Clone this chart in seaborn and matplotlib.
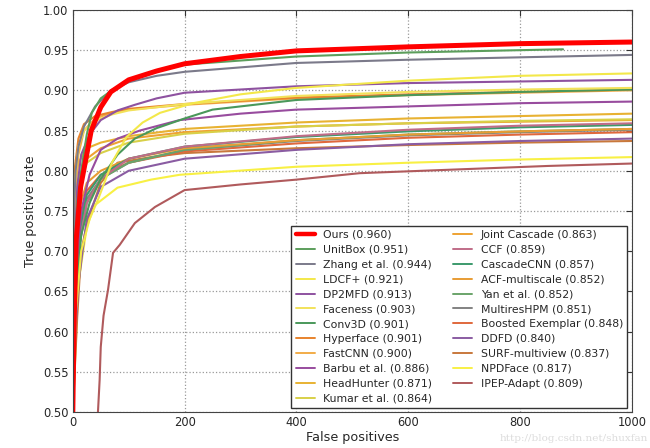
import numpy as np
import pandas as pd
import matplotlib
matplotlib.use("Agg")
import matplotlib.pyplot as plt
import seaborn as sns

# ROC curves (false positives vs true positive rate)
methods = ["Ours", "UnitBox", "Zhang et al.", "LDCF+", "DP2MFD", "Faceness", "Conv3D",
           "Hyperface", "FastCNN", "Barbu et al.", "HeadHunter", "Kumar et al.",
           "Joint Cascade", "CCF", "CascadeCNN", "ACF-multiscale", "Yan et al.",
           "MultiresHPM", "Boosted Exemplar", "DDFD", "SURF-multiview", "NPDFace", "IPEP-Adapt"]
scores = [0.960, 0.951, 0.944, 0.921, 0.913, 0.903, 0.901, 0.901, 0.900, 0.886, 0.871, 0.864,
          0.863, 0.859, 0.857, 0.852, 0.852, 0.851, 0.848, 0.840, 0.837, 0.817, 0.809]

ours_fp = [0, 2, 6, 14, 33, 50, 68, 100, 150, 200, 300, 400, 600, 800, 1000]
ours_tp = [0.5, 0.60, 0.714, 0.78, 0.85, 0.879, 0.898, 0.913, 0.924, 0.933, 0.942, 0.949, 0.954, 0.958, 0.960]
unitbox_fp = [0, 3, 8, 15, 25, 34, 50, 70, 100, 150, 200, 300, 400, 600, 877]
unitbox_tp = [0.5, 0.68, 0.76, 0.80, 0.845, 0.872, 0.89, 0.90, 0.912, 0.925, 0.932, 0.937, 0.942, 0.947, 0.951]
zhang_fp = [0, 2, 5, 10, 20, 40, 68, 100, 150, 200, 400, 600, 800, 1000]
zhang_tp = [0.5, 0.75, 0.80, 0.83, 0.855, 0.88, 0.90, 0.91, 0.918, 0.923, 0.934, 0.938, 0.941, 0.944]
ldcf_fp = [0, 5, 15, 30, 45, 70, 96, 125, 156, 215, 300, 400, 600, 800, 1000]
ldcf_tp = [0.5, 0.62, 0.70, 0.74, 0.764, 0.81, 0.842, 0.86, 0.872, 0.884, 0.895, 0.903, 0.912, 0.918, 0.921]
dp2mfd_fp = [0, 3, 8, 15, 30, 50, 80, 111, 150, 200, 400, 600, 800, 1000]
dp2mfd_tp = [0.5, 0.70, 0.78, 0.82, 0.845, 0.863, 0.875, 0.882, 0.89, 0.897, 0.905, 0.909, 0.911, 0.913]
faceness_fp = [0, 3, 10, 20, 40, 70, 100, 200, 400, 600, 800, 1000]
faceness_tp = [0.5, 0.78, 0.83, 0.85, 0.862, 0.87, 0.875, 0.883, 0.893, 0.898, 0.901, 0.903]
conv3d_fp = [0, 5, 15, 30, 50, 80, 111, 150, 200, 250, 400, 600, 800, 1000]
conv3d_tp = [0.5, 0.64, 0.72, 0.76, 0.79, 0.82, 0.84, 0.853, 0.865, 0.876, 0.888, 0.894, 0.898, 0.901]
hyperface_fp = [0, 3, 10, 20, 40, 70, 100, 200, 400, 600, 800, 1000]
hyperface_tp = [0.5, 0.80, 0.84, 0.858, 0.868, 0.873, 0.877, 0.883, 0.891, 0.895, 0.898, 0.901]
fastcnn_fp = [0, 3, 10, 20, 40, 70, 100, 200, 400, 600, 800, 1000]
fastcnn_tp = [0.5, 0.76, 0.82, 0.85, 0.865, 0.872, 0.876, 0.882, 0.89, 0.894, 0.897, 0.900]
barbu_fp = [0, 5, 15, 30, 50, 80, 120, 191, 300, 400, 600, 800, 1000]
barbu_tp = [0.5, 0.66, 0.75, 0.795, 0.826, 0.84, 0.85, 0.863, 0.871, 0.876, 0.88, 0.884, 0.886]

band_fp = [0, 3, 10, 25, 50, 100, 200, 400, 600, 800, 1000]
headhunter_tp = [0.5, 0.78, 0.81, 0.828, 0.835, 0.843, 0.852, 0.86, 0.865, 0.868, 0.871]
kumar_tp = [0.5, 0.70, 0.78, 0.81, 0.822, 0.835, 0.846, 0.855, 0.859, 0.862, 0.864]
joint_tp = [0.5, 0.72, 0.79, 0.815, 0.828, 0.84, 0.848, 0.855, 0.859, 0.861, 0.863]
ccf_tp = [0.5, 0.60, 0.70, 0.76, 0.79, 0.815, 0.83, 0.843, 0.851, 0.856, 0.859]
cascadecnn_tp = [0.5, 0.62, 0.72, 0.77, 0.795, 0.815, 0.83, 0.842, 0.849, 0.854, 0.857]
acf_tp = [0.5, 0.66, 0.75, 0.785, 0.80, 0.815, 0.828, 0.838, 0.845, 0.849, 0.852]
yan_tp = [0.5, 0.60, 0.70, 0.76, 0.79, 0.81, 0.826, 0.838, 0.845, 0.849, 0.852]
multires_tp = [0.5, 0.62, 0.71, 0.765, 0.79, 0.81, 0.826, 0.837, 0.844, 0.848, 0.851]
boosted_tp = [0.5, 0.64, 0.73, 0.775, 0.795, 0.81, 0.824, 0.834, 0.841, 0.845, 0.848]
ddfd_tp = [0.5, 0.58, 0.66, 0.74, 0.78, 0.80, 0.815, 0.826, 0.833, 0.837, 0.840]

surf_fp = [0, 8, 15, 27, 50, 80, 140, 200, 400, 600, 800, 1000]
surf_tp = [0.5, 0.62, 0.70, 0.739, 0.785, 0.81, 0.817, 0.822, 0.828, 0.832, 0.835, 0.837]
npd_fp = [0, 10, 25, 39, 80, 140, 191, 400, 600, 800, 1000]
npd_tp = [0.5, 0.66, 0.73, 0.757, 0.779, 0.789, 0.795, 0.805, 0.81, 0.814, 0.817]
ipep_fp = [45, 48, 50, 55, 63, 72, 84, 111, 147, 200, 300, 400, 513, 700, 850, 1000]
ipep_tp = [0.5, 0.54, 0.581, 0.62, 0.652, 0.698, 0.708, 0.735, 0.755, 0.776, 0.783, 0.789, 0.797, 0.802, 0.806, 0.809]

curves = {
    "Ours": (ours_fp, ours_tp), "UnitBox": (unitbox_fp, unitbox_tp),
    "Zhang et al.": (zhang_fp, zhang_tp), "LDCF+": (ldcf_fp, ldcf_tp),
    "DP2MFD": (dp2mfd_fp, dp2mfd_tp), "Faceness": (faceness_fp, faceness_tp),
    "Conv3D": (conv3d_fp, conv3d_tp), "Hyperface": (hyperface_fp, hyperface_tp),
    "FastCNN": (fastcnn_fp, fastcnn_tp), "Barbu et al.": (barbu_fp, barbu_tp),
    "HeadHunter": (band_fp, headhunter_tp), "Kumar et al.": (band_fp, kumar_tp),
    "Joint Cascade": (band_fp, joint_tp), "CCF": (band_fp, ccf_tp),
    "CascadeCNN": (band_fp, cascadecnn_tp), "ACF-multiscale": (band_fp, acf_tp),
    "Yan et al.": (band_fp, yan_tp), "MultiresHPM": (band_fp, multires_tp),
    "Boosted Exemplar": (band_fp, boosted_tp), "DDFD": (band_fp, ddfd_tp),
    "SURF-multiview": (surf_fp, surf_tp), "NPDFace": (npd_fp, npd_tp),
    "IPEP-Adapt": (ipep_fp, ipep_tp),
}

colors = ["#ff0000", "#5c9e5c", "#7b7a8a", "#f3e84a", "#8e52a0", "#f2e25a", "#4a985a",
          "#e8832c", "#f2ac48", "#984c9e", "#e8b232", "#d8d048", "#eea232", "#c06c88",
          "#3c9a6c", "#e89c34", "#6aa46a", "#828282", "#e0683c", "#8a5ca2", "#c8783c",
          "#f8f044", "#b05a5c"]

rows = []
for m in methods:
    fp, tp = curves[m]
    for f, t in zip(fp, tp):
        rows.append((m, f, t))
df = pd.DataFrame(rows, columns=["method", "fp", "tpr"])

sns.set_style("white")
plt.rcParams['font.family'] = ['DejaVu Sans']

fig = plt.figure(figsize=(6.5, 4.48), dpi=100)
ax = fig.add_axes([0.112, 0.08, 0.86, 0.898])

# draw in reverse so "Ours" ends up on top
for m, c in reversed(list(zip(methods, colors))):
    sub = df[df["method"] == m]
    sns.lineplot(data=sub, x="fp", y="tpr", ax=ax, color=c, estimator=None, sort=False,
                 lw=3.6 if m == "Ours" else 1.5, legend=False)

handles = [plt.Line2D([], [], color=c, lw=3.2 if m == "Ours" else 1.4) for m, c in zip(methods, colors)]
labels = [f"{m} ({s:.3f})" for m, s in zip(methods, scores)]
leg = ax.legend(handles, labels, ncol=2, loc="lower right", fontsize=7.8, fancybox=False,
                handlelength=1.75, handletextpad=0.8, columnspacing=1.9, labelspacing=0.45,
                borderaxespad=0.4, framealpha=1)
leg.get_frame().set_edgecolor("#333333")

ax.set_xlim(0, 1000)
ax.set_ylim(0.5, 1.0)
ax.set_xticks([0, 200, 400, 600, 800, 1000])
ax.set_yticks(np.arange(0.5, 1.001, 0.05))
ax.yaxis.set_major_formatter(matplotlib.ticker.FormatStrFormatter("%.2f"))
ax.grid(True, linestyle=":", color="#999999", lw=0.9)
ax.tick_params(direction="in", top=True, right=True, labelsize=8.3, length=4, pad=3, color="#333333")
for s in ax.spines.values():
    s.set_color("#444444")
ax.set_xlabel("False positives", fontsize=9.2, labelpad=1)
ax.set_ylabel("True positive rate", fontsize=9.2, labelpad=4)

fig.text(0.997, 0.022, "http://blog.csdn.net/shuxfan", ha="right", va="center",
         fontsize=7.5, color="#dcdcdc", family="serif")

fig.savefig("out.png", dpi=100)
